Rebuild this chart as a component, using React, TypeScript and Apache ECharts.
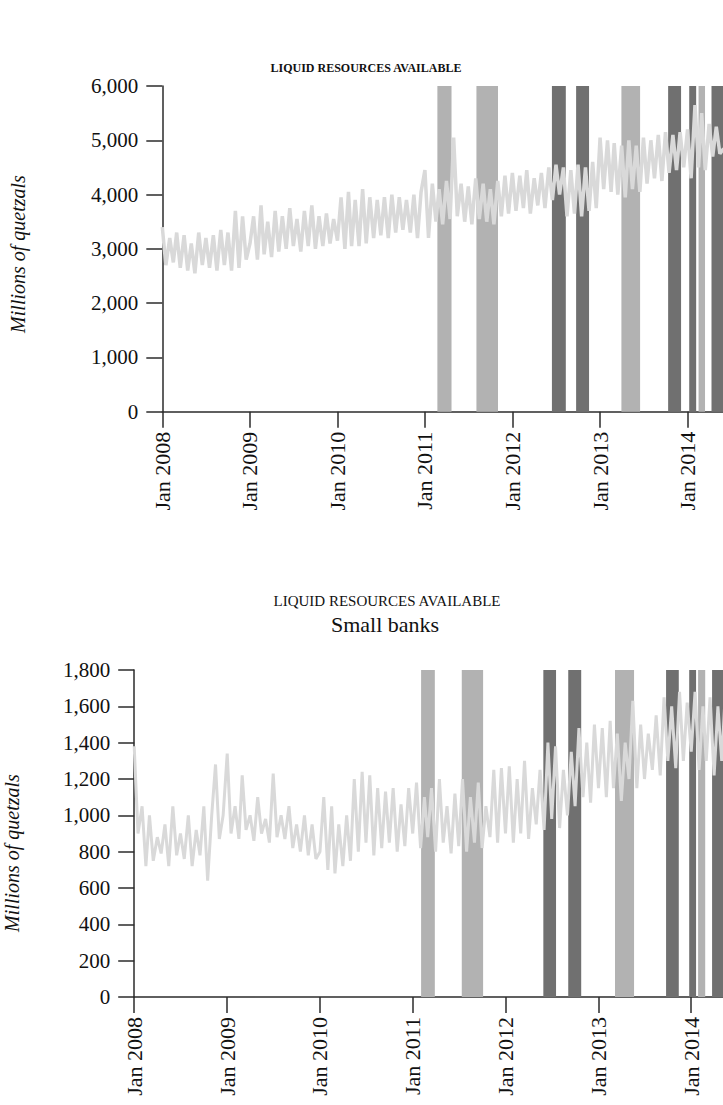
import React, { useEffect, useRef } from "react";
import * as echarts from "echarts";

// ---------- DATA ----------
// Semi-monthly observations (1st and 16th of each month), millions of quetzals
const topYears = [2008, 2009, 2010, 2011, 2012, 2013, 2014];
const top2008 = [3400, 2700, 3200, 2750, 3300, 2650, 3250, 2600, 3100, 2550, 3300, 2700, 3200, 2650, 3250, 2600, 3350, 2700, 3300, 2600, 3700, 2650, 3600, 2800];
const top2009 = [3100, 3600, 2800, 3800, 2900, 3500, 2850, 3700, 2950, 3600, 3000, 3750, 3050, 3550, 2950, 3700, 3050, 3800, 3000, 3600, 3050, 3650, 3100, 3550];
const top2010 = [3150, 3950, 3000, 4050, 3050, 3900, 3050, 4100, 3100, 3950, 3200, 3900, 3250, 3950, 3200, 4000, 3300, 3950, 3350, 3900, 3300, 4000, 3200, 4050];
const top2011 = [4450, 3200, 4200, 3500, 4100, 3450, 4250, 3550, 5050, 3600, 4200, 3500, 4150, 3450, 4300, 3550, 4200, 3500, 4100, 3450, 4250, 3600, 4350, 3650];
const top2012 = [4400, 3700, 4350, 3750, 4450, 3650, 4300, 3800, 4400, 3750, 4500, 3900, 4550, 4000, 4500, 3600, 4450, 3650, 4550, 3600, 4500, 3700, 4600, 3750];
const top2013 = [5050, 4100, 5000, 4050, 4950, 4000, 4900, 3950, 5000, 4100, 4900, 4050, 5050, 4200, 5000, 4300, 5100, 4250, 5150, 4400, 5100, 4450, 5150, 4500];
const top2014 = [5200, 4300, 5650, 4500, 5500, 4450, 5300, 4700, 5250, 4750, 4850];

const small2008 = [1380, 900, 1050, 720, 1000, 750, 880, 790, 950, 720, 1050, 780, 900, 760, 1000, 720, 920, 780, 1050, 640, 1000, 1280, 870, 1000];
const small2009 = [1340, 900, 1050, 870, 1220, 920, 1000, 860, 1100, 900, 980, 850, 1230, 880, 1000, 870, 1050, 820, 950, 800, 1000, 780, 950, 760];
const small2010 = [800, 1100, 700, 1050, 680, 950, 720, 1000, 750, 1200, 800, 1240, 850, 1220, 780, 1150, 820, 1130, 850, 1150, 800, 1060, 830, 1150];
const small2011 = [900, 1180, 820, 1100, 880, 1150, 800, 1200, 850, 1050, 790, 1120, 830, 1200, 800, 1100, 850, 1180, 820, 1050, 880, 1250, 850, 1260];
const small2012 = [900, 1270, 850, 1200, 900, 1300, 870, 1150, 950, 1250, 920, 1400, 980, 1380, 930, 1250, 1000, 1350, 1050, 1480, 1100, 1400, 1070, 1500];
const small2013 = [1150, 1480, 1100, 1520, 1150, 1450, 1080, 1400, 1200, 1630, 1150, 1500, 1200, 1450, 1250, 1550, 1220, 1650, 1300, 1600, 1260, 1680, 1300, 1620];
const small2014 = [1350, 1680, 1250, 1600, 1300, 1650, 1220, 1600, 1300, 1700, 1450];

// Shaded periods: [start, end, shade]
const topBands: [string, string, string][] = [
  ["2011-02-22", "2011-04-22", "light"],
  ["2011-08-04", "2011-11-02", "light"],
  ["2012-06-14", "2012-08-11", "dark"],
  ["2012-09-23", "2012-11-16", "dark"],
  ["2013-03-31", "2013-06-17", "light"],
  ["2013-10-12", "2013-12-05", "dark"],
  ["2014-01-08", "2014-02-06", "dark"],
  ["2014-02-16", "2014-03-15", "light"],
  ["2014-04-11", "2014-05-29", "dark"],
];
const smallBands: [string, string, string][] = [
  ["2011-02-03", "2011-03-29", "light"],
  ["2011-07-13", "2011-10-05", "light"],
  ["2012-05-29", "2012-07-18", "dark"],
  ["2012-09-04", "2012-10-25", "dark"],
  ["2013-03-07", "2013-05-21", "light"],
  ["2013-09-24", "2013-11-13", "dark"],
  ["2013-12-24", "2014-01-20", "dark"],
  ["2014-01-28", "2014-02-25", "light"],
  ["2014-03-24", "2014-05-06", "dark"],
];

const xTickYears = [2008, 2009, 2010, 2011, 2012, 2013, 2014];
const topYTicks = [0, 1000, 2000, 3000, 4000, 5000, 6000];
const smallYTicks = [0, 200, 400, 600, 800, 1000, 1200, 1400, 1600, 1800];
const titleText = "LIQUID RESOURCES AVAILABLE";
const subTitleText = "Small banks";
const yName = "Millions of quetzals";

// ---------- HELPERS ----------
function buildSeries(years: number[], arrays: number[][]): [number, number][] {
  const out: [number, number][] = [];
  arrays.forEach((vals, yi) => {
    vals.forEach((v, i) => {
      const month = Math.floor(i / 2);
      const day = i % 2 === 0 ? 1 : 16;
      out.push([Date.UTC(years[yi], month, day), v]);
    });
  });
  return out;
}

const toTs = (s: string) => {
  const [y, m, d] = s.split("-").map(Number);
  return Date.UTC(y, m - 1, d);
};

const FONT = "Liberation Serif";
const AXIS_COLOR = "#2b2b2b";
const LINE_COLOR = "#d9d9d9";
const LIGHT = "#b2b2b2";
const DARK = "#707070";

function bandData(bands: [string, string, string][]) {
  return bands.map(([s, e, shade]) => [
    { xAxis: toTs(s), itemStyle: { color: shade === "dark" ? DARK : LIGHT } },
    { xAxis: toTs(e) },
  ]);
}

const fmtThousands = (v: number) => v.toLocaleString("en-US");

export default function App() {
  const ref = useRef<HTMLDivElement>(null);

  useEffect(() => {
    if (!ref.current) return;
    const chart = echarts.init(ref.current, undefined, { renderer: "svg" });

    const topData = buildSeries(topYears, [top2008, top2009, top2010, top2011, top2012, top2013, top2014]);
    const smallData = buildSeries(topYears, [small2008, small2009, small2010, small2011, small2012, small2013, small2014]);
    const yearTicks = xTickYears.map((y) => Date.UTC(y, 0, 1));

    const xAxisBase = (gridIndex: number, max: string) => ({
      type: "value",
      gridIndex,
      min: Date.UTC(2008, 0, 1),
      max: toTs(max),
      axisLine: { show: true, onZero: false, lineStyle: { color: AXIS_COLOR, width: 1.5 } },
      axisTick: { show: true, length: 16, customValues: yearTicks, lineStyle: { color: AXIS_COLOR, width: 1.5 } },
      axisLabel: {
        customValues: yearTicks,
        rotate: 90,
        margin: 20,
        fontFamily: FONT,
        fontSize: 22,
        color: "#111",
        formatter: (v: number) => "Jan " + new Date(v).getUTCFullYear(),
      },
      splitLine: { show: false },
    });

    const yAxisBase = (gridIndex: number, max: number, interval: number) => ({
      type: "value",
      gridIndex,
      min: 0,
      max,
      interval,
      axisLine: { show: true, lineStyle: { color: AXIS_COLOR, width: 1.5 } },
      axisTick: { show: true, length: 16, lineStyle: { color: AXIS_COLOR, width: 1.5 } },
      axisLabel: {
        margin: 24,
        fontFamily: FONT,
        fontSize: 21,
        color: "#111",
        formatter: (v: number) => fmtThousands(v),
      },
      splitLine: { show: false },
    });

    chart.setOption({
      animation: false,
      backgroundColor: "#ffffff",
      grid: [
        { left: 162.3, right: 0, top: 86, height: 325.7 },
        { left: 134.2, right: 0, top: 670, height: 327 },
      ],
      xAxis: [xAxisBase(0, "2014-05-29"), xAxisBase(1, "2014-05-06")],
      yAxis: [
        yAxisBase(0, topYTicks[topYTicks.length - 1], topYTicks[1] - topYTicks[0]),
        yAxisBase(1, smallYTicks[smallYTicks.length - 1], smallYTicks[1] - smallYTicks[0]),
      ],
      series: [
        {
          type: "line",
          xAxisIndex: 0,
          yAxisIndex: 0,
          data: [],
          z: 1,
          silent: true,
          markArea: { silent: true, data: bandData(topBands) },
        },
        {
          type: "line",
          xAxisIndex: 0,
          yAxisIndex: 0,
          data: topData,
          z: 3,
          symbol: "none",
          lineStyle: { color: LINE_COLOR, width: 3.5 },
        },
        {
          type: "line",
          xAxisIndex: 1,
          yAxisIndex: 1,
          data: [],
          z: 1,
          silent: true,
          markArea: { silent: true, data: bandData(smallBands) },
        },
        {
          type: "line",
          xAxisIndex: 1,
          yAxisIndex: 1,
          data: smallData,
          z: 3,
          symbol: "none",
          lineStyle: { color: LINE_COLOR, width: 3 },
        },
      ],
      graphic: [
        {
          type: "text",
          x: 366,
          y: 68,
          style: { text: titleText, fontFamily: FONT, fontSize: 12, fontWeight: "bold", fill: "#111", align: "center", verticalAlign: "middle" },
        },
        {
          type: "text",
          x: 387,
          y: 601,
          style: { text: titleText, fontFamily: FONT, fontSize: 15, fill: "#111", align: "center", verticalAlign: "middle" },
        },
        {
          type: "text",
          x: 385,
          y: 624,
          style: { text: subTitleText, fontFamily: FONT, fontSize: 22, fill: "#111", align: "center", verticalAlign: "middle" },
        },
        {
          type: "text",
          x: 18,
          y: 254,
          rotation: Math.PI / 2,
          style: { text: yName, fontFamily: FONT, fontSize: 20, fontStyle: "italic", fill: "#111", align: "center", verticalAlign: "middle" },
        },
        {
          type: "text",
          x: 12,
          y: 853,
          rotation: Math.PI / 2,
          style: { text: yName, fontFamily: FONT, fontSize: 20, fontStyle: "italic", fill: "#111", align: "center", verticalAlign: "middle" },
        },
      ],
    });

    return () => chart.dispose();
  }, []);

  return (
    <div style={{ position: "absolute", left: 0, top: 0, width: 723, height: 1105, overflow: "hidden", background: "#fff" }}>
      <div ref={ref} style={{ width: 723, height: 1105 }} />
    </div>
  );
}
